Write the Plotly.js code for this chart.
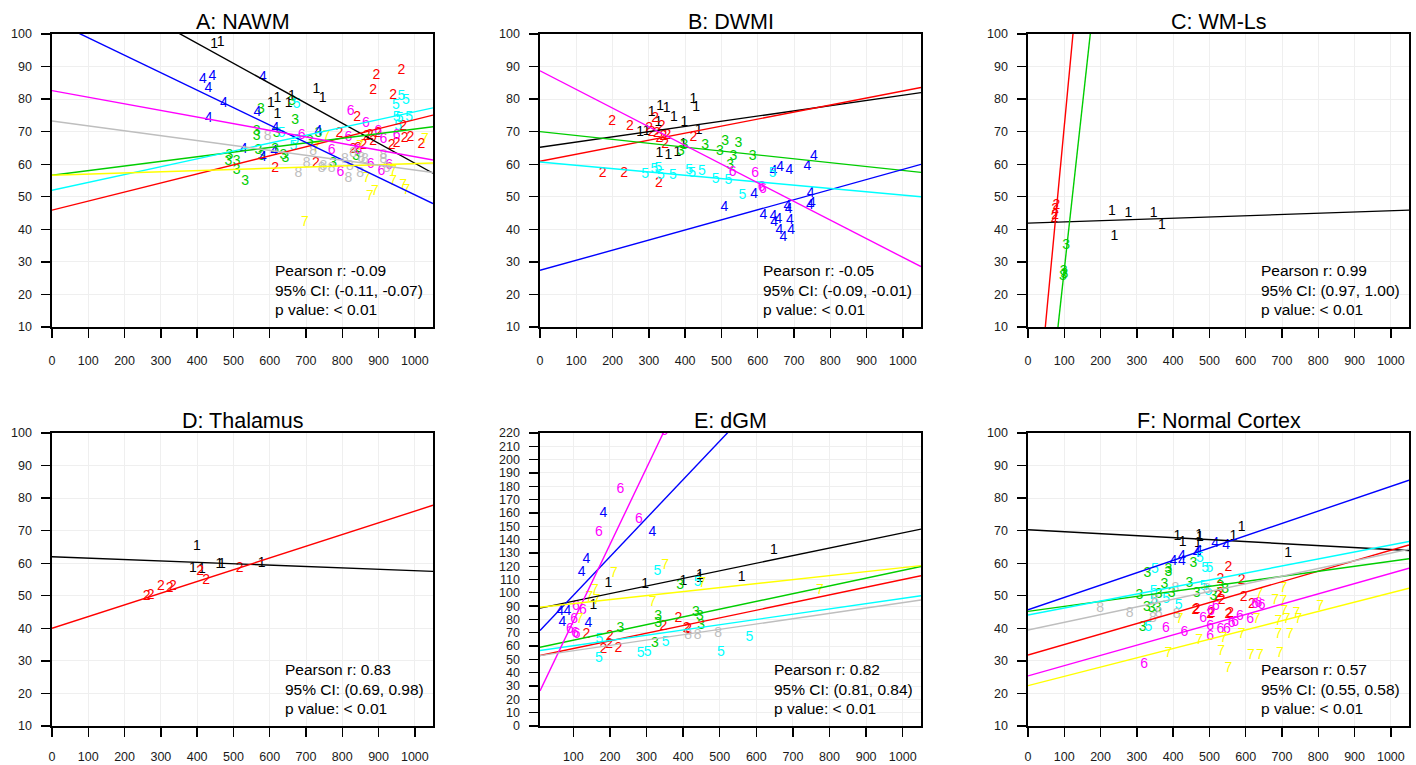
<!DOCTYPE html>
<html><head><meta charset="utf-8">
<script src="https://cdn.plot.ly/plotly-3.0.1.min.js"></script>
<style>html,body{margin:0;padding:0;background:#fff}#plot{width:1416px;height:765px}</style>
</head><body><div id="plot"></div>
<script>
// ---------- DATA ----------
const titles = ["A: NAWM","B: DWMI","C: WM-Ls","D: Thalamus","E: dGM","F: Normal Cortex"];
const statR  = ["-0.09","-0.05","0.99","0.83","0.82","0.57"];
const statCI = ["(-0.11, -0.07)","(-0.09, -0.01)","(0.97, 1.00)","(0.69, 0.98)","(0.81, 0.84)","(0.55, 0.58)"];
const statP  = ["< 0.01","< 0.01","< 0.01","< 0.01","< 0.01","< 0.01"];
const groupLabels = ["1","2","3","4","5","6","7","8"];
const xTicks = [0,100,200,300,400,500,600,700,800,900,1000];
const yTicks = [10,20,30,40,50,60,70,80,90,100];
const yTicksE = [0,10,20,30,40,50,60,70,80,90,100,110,120,130,140,150,160,170,180,190,200,210,220];

// Panel A: NAWM
const A1x=[447,465,603,621,621,652,661,729,746];
const A1y=[96.9,97.4,78.5,80.1,75.4,78.7,80.7,83.0,80.1];
const A2x=[894,963,885,940,841,792,876,885,830,844,936,950,968,972,988,1018,615,727,858,867,899];
const A2y=[87.4,88.9,82.6,81.2,74.4,69.5,68.9,66.9,64.5,64.8,65.9,66.4,71.7,67.9,68.2,66.2,58.7,60.2,65.6,68.4,69.5];
const A3x=[532,509,489,486,509,576,564,564,569,578,619,615,638,643,661,670,734,775,838,711];
const A3y=[54.8,58.2,62.8,60.7,60.9,76.8,68.4,70.0,64.3,62.3,69.5,64.6,62.8,61.8,79.2,73.3,69.5,60.2,62.3,66.9];
const A4x=[416,442,431,581,474,432,566,616,528,581,612,734];
const A4y=[85.9,87.1,83.3,86.7,78.5,74.1,75.8,71.0,64.5,62.1,63.8,70.0];
const A5x=[963,975,948,950,958,984,674,633,665,670,954];
const A5y=[80.9,79.7,77.9,74.4,74.1,74.4,78.2,69.5,65.4,67.4,71.7];
const A6x=[823,865,688,817,899,913,771,878,908,929,795,950,844];
const A6y=[76.3,72.5,68.9,68.2,70.0,67.6,64.3,60.0,57.7,59.5,57.4,68.9,64.3];
const A7x=[697,876,890,940,968,977,867,940,757,1028,849,729];
const A7y=[42.0,50.2,51.5,54.6,53.6,52.0,55.6,57.7,68.6,67.6,65.4,64.8];
const A8x=[594,679,702,743,748,771,807,817,821,849,853,862,913,913,922,830,720];
const A8y=[68.4,57.2,60.2,58.7,59.2,58.7,61.5,55.6,59.2,57.2,61.8,61.3,62.8,61.5,58.7,63.3,63.8];
const A_int  =[121.7,45.9,56.6,104.2,52.0,82.6,56.6,73.3];
const A_slope=[-0.0614,0.0278,0.0142,-0.0536,0.0241,-0.0203,0.0036,-0.0151];

// Panel B: DWMI
const B1x=[308,331,349,369,398,423,430,437,276,326,329,354,379,395,294];
const B1y=[75.8,77.7,77.1,74.4,72.7,80.0,77.4,70.5,69.7,72.8,63.3,62.8,63.5,66.2,70.0];
const B2x=[199,248,317,301,308,335,340,351,329,345,423,173,232,328,322];
const B2y=[73.0,71.5,74.1,71.0,69.7,71.5,68.6,68.9,67.9,66.2,68.2,57.2,57.2,54.1,69.5];
const B3x=[455,496,510,547,533,586,524,388,398];
const B3y=[65.7,64.0,66.9,66.4,62.5,62.3,59.7,63.8,65.9];
const B4x=[755,737,687,662,643,590,508,616,643,645,657,689,660,671,692,682,685,746,749,744];
const B4y=[62.5,59.2,58.0,59.0,57.9,50.8,46.7,44.3,43.8,42.0,43.0,42.8,39.7,37.4,39.7,47.1,46.1,51.0,47.9,47.4];
const B5x=[290,315,326,333,366,411,419,446,484,519,558,641];
const B5y=[56.8,58.4,58.7,56.4,56.4,58.0,57.2,57.7,55.4,54.9,50.5,57.0];
const B6x=[531,593,611,614];
const B6y=[57.5,57.2,52.8,52.2];
const B_int  =[65.2,60.9,70.0,27.4,60.7,88.7];
const B_slope=[0.0160,0.0216,-0.0119,0.0310,-0.0102,-0.0573];

// Panel C: WM-Ls
const C1x=[231,277,346,369,238];
const C1y=[45.4,44.9,44.9,41.1,37.9];
const C2x=[78,75,75,73];
const C2y=[47.4,46.1,44.3,43.3];
const C3x=[105,98,100,96];
const C3y=[34.9,26.9,26.2,25.6];
const C_int  =[41.9,-46.3,-73.5];
const C_slope=[0.0038,1.18,1.011];

// Panel D: Thalamus
const D1x=[399,388,413,461,468,578];
const D1y=[65.1,58.5,58.2,59.5,59.5,60.0];
const D2x=[261,272,300,324,333,408,425,517];
const D2y=[49.8,50.0,52.9,52.1,52.7,57.6,54.6,58.3];
const D_int  =[62.0,40.0];
const D_slope=[-0.0043,0.036];

// Panel E: dGM
const E1x=[196,296,401,446,446,560,648,155];
const E1y=[106.7,106.0,108.5,112.8,111.0,111.5,131.6,90.2];
const E2x=[200,182,223,136,346,387,410,414,198];
const E2y=[67.2,57.1,58.4,68.4,74.7,80.4,73.4,72.2,61.0];
const E3x=[229,332,332,392,435,446,323,449];
const E3y=[73.4,82.2,77.2,105.5,85.2,82.2,61.6,75.2];
const E4x=[182,316,136,123,64,84,70,141];
const E4y=[159.4,145.6,125.3,115.3,86.0,86.0,77.7,76.7];
const E5x=[330,440,352,284,303,170,503,581,171];
const E5y=[116.0,108.0,62.9,54.1,55.4,50.9,55.4,66.4,65.1];
const E6x=[229,279,170,107,126,102,91,105,109,349];
const E6y=[177.4,154.9,145.3,89.7,86.7,79.7,72.2,69.7,68.4,221];
const E7x=[351,211,159,144,317,118,453,774,164];
const E7y=[120.2,114.7,101.7,96.7,92.7,79.7,107.2,101.5,94.4];
const E8x=[414,440,496];
const E8y=[67.7,67.7,69.7];
const E_int  =[88.0,52.4,58.6,69.1,56.3,21.2,88.9,52.5];
const E_slope=[0.057,0.0575,0.0583,0.2897,0.0395,0.575,0.030,0.0401];

// Panel F: Normal Cortex
const F1x=[412,426,472,474,468,566,589,717];
const F1y=[68.2,66.4,68.4,67.9,66.2,68.2,71.0,62.9];
const F2x=[552,530,589,594,617,465,461,506,502,552,557,530,534,525];
const F2y=[58.7,54.9,54.6,49.5,47.2,45.9,45.5,44.6,44.1,44.3,44.6,50.8,48.7,49.8];
const F3x=[329,387,387,456,376,445,307,360,396,328,341,357,316,511,543,465,530];
const F3y=[56.7,58.0,57.0,60.0,53.4,53.9,50.0,50.3,50.6,46.4,46.2,46.2,40.2,49.8,51.8,50.6,52.8];
const F4x=[401,424,424,465,470,516,546];
const F4y=[60.5,62.1,60.5,63.1,63.6,66.0,65.5];
const F5x=[350,474,488,500,484,497,346,381,415,332,346];
const F5y=[58.0,61.3,58.5,58.5,52.8,51.3,51.3,49.0,46.9,40.3,48.7];
const F6x=[320,380,431,483,502,502,530,548,561,571,584,612,518,626,644,635,504];
const F6y=[28.8,40.0,38.8,43.1,40.6,37.5,39.5,39.5,41.6,41.8,43.6,42.8,46.7,47.2,46.9,47.5,45.2];
const F7x=[387,418,472,532,552,539,589,614,639,694,630,638,681,704,704,706,690,713,690,722,740,805,745];
const F7y=[32.3,42.6,36.4,32.9,27.7,37.0,38.0,31.8,31.8,32.3,42.6,50.3,48.7,52.3,48.2,45.2,42.1,42.6,38.0,38.0,44.6,46.7,42.6];
const F8x=[199,280,344,350,360,406,410,493];
const F8y=[46.2,44.6,43.1,48.7,44.6,52.3,44.1,51.8];
const F_int  =[70.3,31.8,45.2,45.7,44.1,25.4,22.4,39.5];
const F_slope=[-0.0061,0.0322,0.0154,0.0379,0.0215,0.0315,0.0285,0.0236];

// ---------- STYLE ----------
const COLORS = ["#000000","#FF0000","#00CD00","#0000FF","#00FFFF","#FF00FF","#FFFF00","#BEBEBE"];
const FONT = "Liberation Sans, Arial, Helvetica, sans-serif";
const W = 1416, H = 765;
const colPx = [[52,433],[540,921],[1028,1409]];
const rowPx = [[34,327],[433,726]];
const rowStandoff = [12, 9];

const panels = [
  {xs:[A1x,A2x,A3x,A4x,A5x,A6x,A7x,A8x], ys:[A1y,A2y,A3y,A4y,A5y,A6y,A7y,A8y], ic:A_int, sl:A_slope, xr:[0,1050], yr:[10,100], yt:yTicks, sx:0.58},
  {xs:[B1x,B2x,B3x,B4x,B5x,B6x], ys:[B1y,B2y,B3y,B4y,B5y,B6y], ic:B_int, sl:B_slope, xr:[0,1050], yr:[10,100], yt:yTicks, sx:0.58},
  {xs:[C1x,C2x,C3x], ys:[C1y,C2y,C3y], ic:C_int, sl:C_slope, xr:[0,1050], yr:[10,100], yt:yTicks, sx:0.606},
  {xs:[D1x,D2x], ys:[D1y,D2y], ic:D_int, sl:D_slope, xr:[0,1050], yr:[10,100], yt:yTicks, sx:0.606},
  {xs:[E1x,E2x,E3x,E4x,E5x,E6x,E7x,E8x], ys:[E1y,E2y,E3y,E4y,E5y,E6y,E7y,E8y], ic:E_int, sl:E_slope, xr:[9,1050], yr:[0,220], yt:yTicksE, sx:0.608},
  {xs:[F1x,F2x,F3x,F4x,F5x,F6x,F7x,F8x], ys:[F1y,F2y,F3y,F4y,F5y,F6y,F7y,F8y], ic:F_int, sl:F_slope, xr:[0,1050], yr:[10,100], yt:yTicks, sx:0.606}
];

const traces = [];
const layout = {
  width: W, height: H, margin:{l:0,r:0,t:0,b:0},
  paper_bgcolor:"#fff", plot_bgcolor:"#fff", showlegend:false,
  font:{family:FONT, color:"#000"}, annotations:[]
};

panels.forEach((p, i) => {
  const n = i + 1;
  const xa = n === 1 ? "x" : "x" + n, ya = n === 1 ? "y" : "y" + n;
  const xk = n === 1 ? "xaxis" : "xaxis" + n, yk = n === 1 ? "yaxis" : "yaxis" + n;
  const row = Math.floor(i / 3);
  const c = colPx[i % 3], r = rowPx[row];
  const axCommon = {
    showline:true, mirror:true, linecolor:"#000", linewidth:1.6,
    ticks:"outside", ticklen:9, tickwidth:1.3, tickcolor:"#000",
    showgrid:true, gridcolor:"#efefef", gridwidth:1, zeroline:false,
    tickfont:{size:12.5, family:FONT, color:"#1a1a1a"}, fixedrange:true
  };
  layout[xk] = Object.assign({}, axCommon, {
    domain:[c[0]/W, c[1]/W], range:p.xr, anchor:ya,
    tickmode:"array", tickvals:xTicks, ticktext:xTicks.map(String),
    ticklabelstandoff:rowStandoff[row]
  });
  layout[yk] = Object.assign({}, axCommon, {
    domain:[1 - r[1]/H, 1 - r[0]/H], range:p.yr, anchor:xa,
    tickmode:"array", tickvals:p.yt, ticktext:p.yt.map(String),
    ticklabelstandoff:7
  });
  // points as digit labels
  p.xs.forEach((xv, g) => {
    traces.push({
      type:"scatter", mode:"text", x:xv, y:p.ys[g], xaxis:xa, yaxis:ya,
      text:xv.map(() => groupLabels[g]), textposition:"middle center",
      textfont:{size:14, color:COLORS[g], family:FONT}, hoverinfo:"skip"
    });
  });
  // regression lines
  p.ic.forEach((b0, g) => {
    const lx = [p.xr[0], p.xr[1]];
    traces.push({
      type:"scatter", mode:"lines", x:lx, y:lx.map(v => b0 + p.sl[g] * v),
      xaxis:xa, yaxis:ya, line:{color:COLORS[g], width:1.4}, hoverinfo:"skip"
    });
  });
  // title
  layout.annotations.push({
    text:titles[i], xref:"paper", yref:"paper",
    x:(c[0] + c[1]) / 2 / W, y:1 - (r[0] - 12) / H, xanchor:"center", yanchor:"middle",
    showarrow:false, font:{size:21.5, family:FONT, color:"#000"}
  });
  // stats
  const lines = ["Pearson r: " + statR[i], "95% CI: " + statCI[i], "p value: " + statP[i]];
  lines.forEach((t, k) => {
    layout.annotations.push({
      text:t, xref:xa + " domain", yref:ya + " domain",
      x:p.sx, y:(37 + 19.3 * (1 - k)) / 293, xanchor:"left", yanchor:"middle",
      showarrow:false, font:{size:15.5, family:FONT, color:"#000"}
    });
  });
});

Plotly.newPlot("plot", traces, layout, {displayModeBar:false, staticPlot:true});
</script></body></html>
